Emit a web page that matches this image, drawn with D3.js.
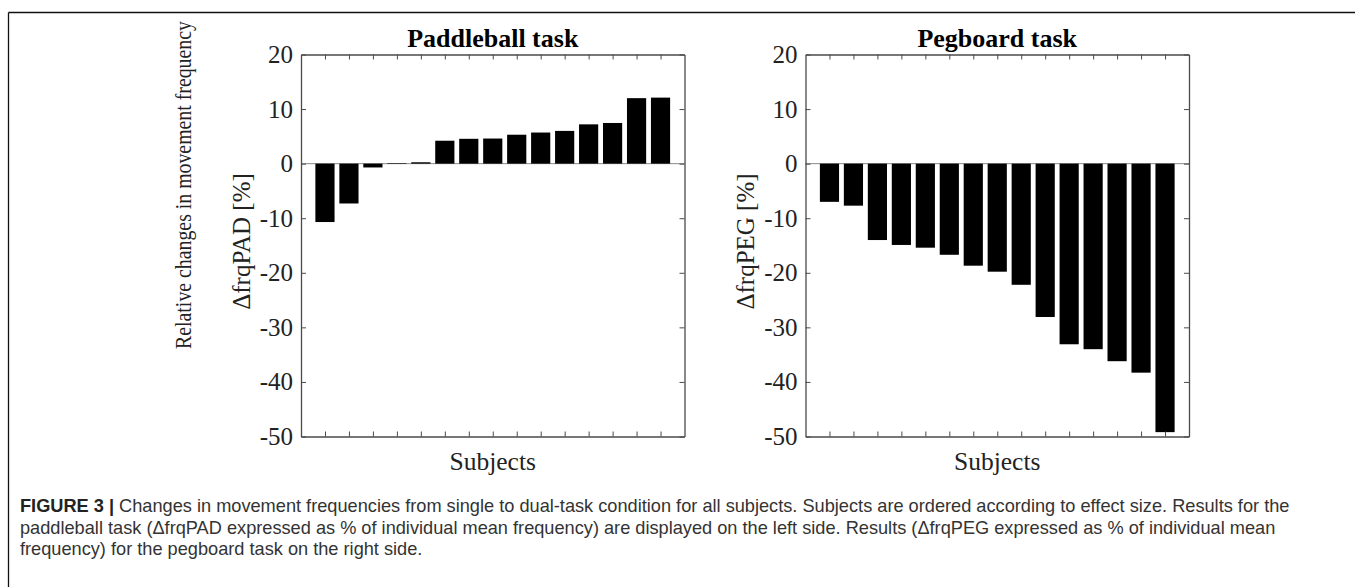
<!DOCTYPE html>
<html>
<head>
<meta charset="utf-8">
<script src="https://cdn.jsdelivr.net/npm/d3@7"></script>
<style>
  body { margin: 0; background: #fff; }
</style>
</head>
<body>
<div class="chart-container"></div>
<script>
// data
const subjects = [1, 2, 3, 4, 5, 6, 7, 8, 9, 10, 11, 12, 13, 14, 15];
const padValues = [-10.7, -7.3, -0.7, 0.1, 0.25, 4.2, 4.55, 4.6, 5.3, 5.7, 6.0, 7.2, 7.45, 12.0, 12.1];
const pegValues = [-7.0, -7.7, -14.0, -14.9, -15.4, -16.7, -18.7, -19.8, -22.2, -28.1, -33.1, -34.0, -36.2, -38.3, -49.2];
const yTicks = [20, 10, 0, -10, -20, -30, -40, -50];
const titles = ['Paddleball task', 'Pegboard task'];
const yLabels = ['\u0394frqPAD [%]', '\u0394frqPEG [%]'];
const captionLines = [
  'Changes in movement frequencies from single to dual-task condition for all subjects. Subjects are ordered according to effect size. Results for the',
  'paddleball task (\u0394frqPAD expressed as % of individual mean frequency) are displayed on the left side. Results (\u0394frqPEG expressed as % of individual mean',
  'frequency) for the pegboard task on the right side.'
];

const width = 1355;
const height = 587;
const serif = "'Liberation Serif', 'Times New Roman', serif";
const sans = "'Liberation Sans', Arial, sans-serif";

const svg = d3.select('.chart-container')
  .append('svg')
  .attr('width', width)
  .attr('height', height);

// outer frame (top + left visible)
svg.append('line').attr('x1', 8.5).attr('x2', width).attr('y1', 12.5).attr('y2', 12.5)
  .attr('stroke', '#111').attr('stroke-width', 1.3);
svg.append('line').attr('x1', 8.5).attr('x2', 8.5).attr('y1', 12.5).attr('y2', height)
  .attr('stroke', '#111').attr('stroke-width', 1.3);

const chart_top = 54.5;
const chart_height = 382;
const chart_width = 383.5;
const panels = [
  { left: 301, values: padValues, title: titles[0], ylabel: yLabels[0] },
  { left: 805.5, values: pegValues, title: titles[1], ylabel: yLabels[1] }
];

const yScale = d3.scaleLinear().domain([-50, 20]).range([chart_height, 0]);
const xScale = d3.scaleLinear().domain([0, subjects.length + 1]).range([0, chart_width]);
const barW = 0.8 * (xScale(1) - xScale(0));
const axisColor = '#4a4a4a';

panels.forEach((p, pi) => {
  const g = svg.append('g').attr('transform', `translate(${p.left},${chart_top})`);

  // zero line
  g.append('line')
    .attr('x1', 0).attr('x2', chart_width)
    .attr('y1', yScale(0)).attr('y2', yScale(0))
    .attr('stroke', '#8a8a8a').attr('stroke-width', 1);

  g.selectAll('.bar')
    .data(p.values)
    .enter()
    .append('rect')
    .attr('class', 'bar')
    .attr('x', (d, i) => xScale(subjects[i]) - barW / 2)
    .attr('y', d => yScale(Math.max(0, d)))
    .attr('width', barW)
    .attr('height', d => Math.abs(yScale(d) - yScale(0)))
    .style('fill', '#000');

  const xB = d3.axisBottom(xScale).tickValues(subjects).tickSize(-5).tickSizeOuter(0).tickFormat('');
  const xT = d3.axisTop(xScale).tickValues(subjects).tickSize(-5).tickSizeOuter(0).tickFormat('');
  const yL = d3.axisLeft(yScale).tickValues(yTicks).tickSize(-5).tickSizeOuter(0).tickPadding(8);
  const yR = d3.axisRight(yScale).tickValues(yTicks).tickSize(-5).tickSizeOuter(0).tickFormat('');

  g.append('g').attr('transform', `translate(0,${chart_height})`).call(xB);
  g.append('g').call(xT);
  const yAxisDraw = g.append('g').call(yL);
  g.append('g').attr('transform', `translate(${chart_width},0)`).call(yR);

  g.selectAll('.domain').attr('stroke', axisColor).attr('stroke-width', 1.3);
  g.selectAll('.tick line').attr('stroke', axisColor).attr('stroke-width', 1);
  yAxisDraw.selectAll('text')
    .attr('font-size', 25).attr('font-family', serif).attr('fill', '#222')
    .text(d => d < 0 ? '-' + Math.abs(d) : d);

  // title
  g.append('text')
    .attr('x', chart_width / 2).attr('y', -8)
    .attr('text-anchor', 'middle')
    .attr('font-family', serif).attr('font-weight', 'bold').attr('font-size', 26)
    .attr('fill', '#000')
    .text(p.title);

  // x label
  g.append('text')
    .attr('x', chart_width / 2).attr('y', chart_height + 33)
    .attr('text-anchor', 'middle')
    .attr('font-family', serif).attr('font-size', 25.5).attr('fill', '#222')
    .text('Subjects');

  // y label
  g.append('text')
    .attr('transform', `translate(${-60},${chart_height / 2 - 4}) rotate(-90)`)
    .attr('text-anchor', 'middle')
    .attr('dy', '0.35em')
    .attr('font-family', serif).attr('font-size', 25).attr('fill', '#222')
    .text(p.ylabel);

  if (pi === 0) {
    // shared label, squeezed along its length to fit the reference extent
    const rel = g.append('text')
      .attr('text-anchor', 'middle')
      .attr('dy', '0.35em')
      .attr('font-family', serif).attr('font-size', 24).attr('fill', '#222')
      .text('Relative changes in movement frequency');
    const len = rel.node().getComputedTextLength();
    const k = Math.min(1, 328 / len);
    rel.attr('transform', `translate(${-118},${185 - chart_top}) rotate(-90) scale(${k},1)`);
  }
});

// caption
const cap = svg.append('g').attr('class', 'caption');
captionLines.forEach((line, i) => {
  const t = cap.append('text')
    .attr('x', 20).attr('y', 512 + i * 21.5)
    .attr('font-family', sans).attr('font-size', 18.2).attr('fill', '#333');
  if (i === 0) {
    t.append('tspan').attr('font-weight', 'bold').attr('fill', '#222').text('FIGURE 3 | ');
  }
  t.append('tspan').text(line);
});
</script>
</body>
</html>
